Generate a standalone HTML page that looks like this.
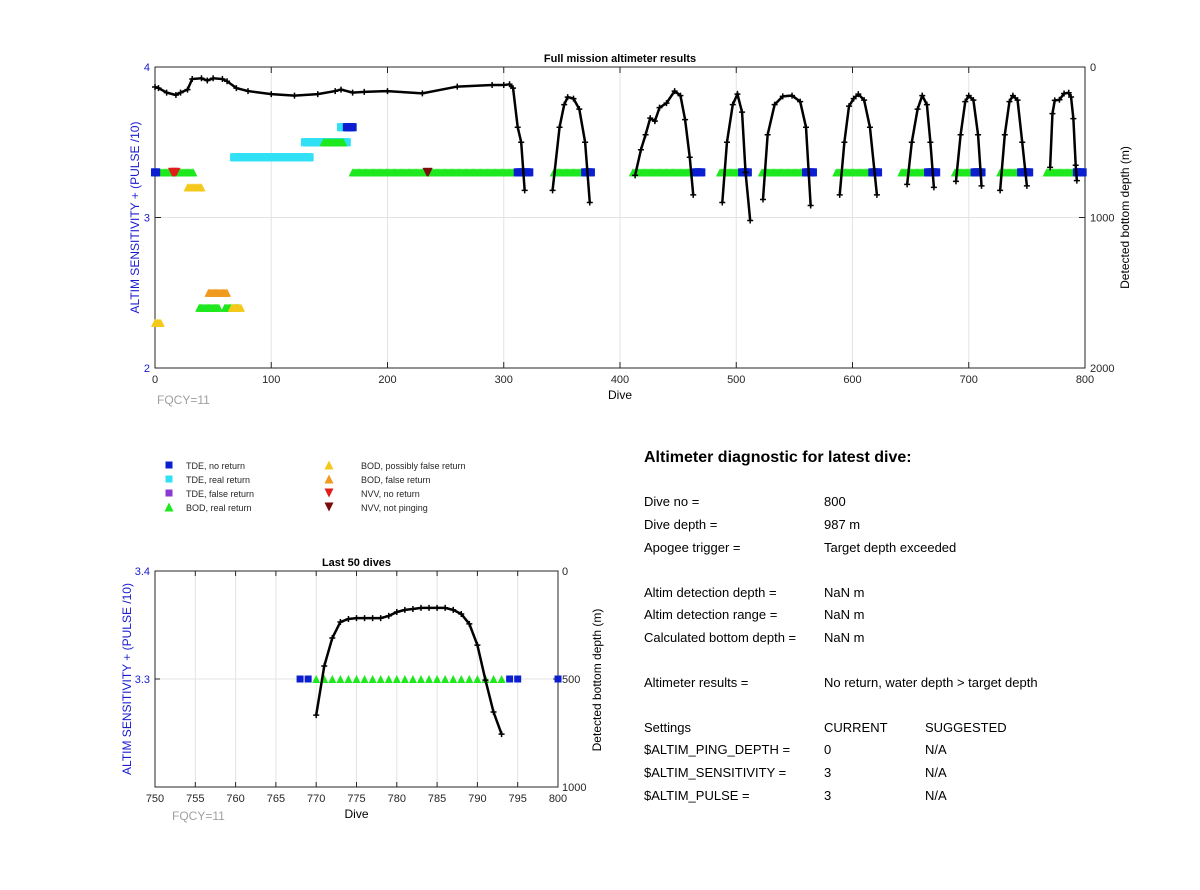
<!DOCTYPE html>
<html><head><meta charset="utf-8"><style>
body{margin:0;background:#fff;font-family:"Liberation Sans",Arial,sans-serif}
svg text{font-family:"Liberation Sans",Arial,sans-serif}
</style></head><body>
<svg id="s" width="1200" height="885" viewBox="0 0 1200 885" xmlns="http://www.w3.org/2000/svg">
<rect width="1200" height="885" fill="#fff"/>
<g id="top"></g>
<g id="bot"></g>
<g id="leg"></g>
<g font-size="13" fill="#000">
<text x="644" y="462" font-size="16" font-weight="bold">Altimeter diagnostic for latest dive:</text>
<text x="644" y="506">Dive no =</text><text x="824" y="506">800</text>
<text x="644" y="529">Dive depth =</text><text x="824" y="529">987 m</text>
<text x="644" y="552">Apogee trigger =</text><text x="824" y="552">Target depth exceeded</text>
<text x="644" y="597">Altim detection depth =</text><text x="824" y="597">NaN m</text>
<text x="644" y="619">Altim detection range =</text><text x="824" y="619">NaN m</text>
<text x="644" y="642">Calculated bottom depth =</text><text x="824" y="642">NaN m</text>
<text x="644" y="687">Altimeter results =</text><text x="824" y="687">No return, water depth &gt; target depth</text>
<text x="644" y="732">Settings</text><text x="824" y="732">CURRENT</text><text x="925" y="732">SUGGESTED</text>
<text x="644" y="754">$ALTIM_PING_DEPTH =</text><text x="824" y="754">0</text><text x="925" y="754">N/A</text>
<text x="644" y="777">$ALTIM_SENSITIVITY =</text><text x="824" y="777">3</text><text x="925" y="777">N/A</text>
<text x="644" y="800">$ALTIM_PULSE =</text><text x="824" y="800">3</text><text x="925" y="800">N/A</text>
</g>
</svg>
<script>
// ---- top chart data ----
const topDepthSegments = [
 [[0,133],[3,140],[10,170],[18,186],[22,170],[28,150],[32,80],[40,75],[45,90],[50,75],[58,80],[62,95],[70,140],[80,160],[100,180],[120,190],[140,180],[155,160],[160,150],[170,170],[180,165],[200,160],[230,175],[260,130],[290,120],[300,120],[305,115],[308,140],[312,400],[315,500],[318,820]],
 [[342,820],[348,400],[352,250],[355,200],[360,210],[365,280],[370,500],[374,900]],
 [[413,720],[418,550],[422,450],[426,340],[430,360],[434,270],[440,240],[447,160],[452,190],[456,350],[460,600],[463,850]],
 [[488,900],[492,500],[497,250],[501,180],[505,300],[508,700],[512,1020]],
 [[523,880],[527,450],[533,250],[540,195],[548,190],[555,230],[560,400],[564,920]],
 [[589,850],[593,500],[597,260],[601,210],[605,180],[610,220],[615,400],[621,850]],
 [[647,780],[651,500],[656,280],[660,190],[664,250],[667,500],[670,800]],
 [[689,760],[693,450],[697,230],[700,190],[704,220],[708,450],[711,790]],
 [[727,820],[731,450],[735,230],[738,190],[742,220],[746,500],[750,790]],
 [[770,667],[772,310],[774,222],[778,218],[782,176],[786,171],[788,199],[790,343],[792,653],[793,755]]
];
// bands: [startDive, endDive, level, type]
const topBands = [
 [0,33,3.3,'bod_real'],[0,1,3.3,'tde_no'],[28,40,3.2,'bod_pf'],[15,18,3.3,'nvv_no'],
 [68,133,3.4,'tde_real'],[129,165,3.5,'tde_real'],[145,162,3.5,'bod_real'],[160,170,3.6,'tde_real'],[165,170,3.6,'tde_no'],
 [170,312,3.3,'bod_real'],[312,322,3.3,'tde_no'],[234,235,3.3,'nvv_np'],
 [343,370,3.3,'bod_real'],[370,375,3.3,'tde_no'],
 [411,465,3.3,'bod_real'],[465,470,3.3,'tde_no'],
 [486,505,3.3,'bod_real'],[505,510,3.3,'tde_no'],
 [522,560,3.3,'bod_real'],[560,566,3.3,'tde_no'],
 [586,617,3.3,'bod_real'],[617,622,3.3,'tde_no'],
 [642,665,3.3,'bod_real'],[665,672,3.3,'tde_no'],
 [688,705,3.3,'bod_real'],[705,711,3.3,'tde_no'],
 [727,745,3.3,'bod_real'],[745,752,3.3,'tde_no'],
 [767,793,3.3,'bod_real'],[793,798,3.3,'tde_no'],
 [46,62,2.5,'bod_false'],[38,55,2.4,'bod_real'],[60,72,2.4,'bod_real'],[66,74,2.4,'bod_pf'],[0,5,2.3,'bod_pf']
];
const topXTicks=[0,100,200,300,400,500,600,700,800];
const topYTicks=[2,3,4];
const topDepthTicks=[0,1000,2000];
// ---- bottom chart data ----
const botDives=[770,771,772,773,774,775,776,777,778,779,780,781,782,783,784,785,786,787,788,789,790,791,792,793];
const botDepths=[667,440,310,236,222,218,218,218,218,208,190,180,176,171,171,171,171,180,199,245,343,505,653,755];
const botTdeNo=[768,769,794,795,800];
const botBodReal=[770,771,772,773,774,775,776,777,778,779,780,781,782,783,784,785,786,787,788,789,790,791,792,793];
const botXTicks=[750,755,760,765,770,775,780,785,790,795,800];

const NS='http://www.w3.org/2000/svg';
function el(p,t,a){const e=document.createElementNS(NS,t);for(const k in a)e.setAttribute(k,a[k]);p.appendChild(e);return e;}
const colors={tde_no:'#0b1fd0',tde_real:'#30e0f5',tde_false:'#8a3ad0',bod_real:'#1ee81e',bod_pf:'#f5c91c',bod_false:'#f09a1e',nvv_no:'#e01c1c',nvv_np:'#7a0c0c'};
function marker(g,type,x,y,s){
  let e;
  if(type.startsWith('tde')) e=el(g,'rect',{x:x-s/2,y:y-s/2,width:s,height:s,fill:colors[type]});
  else if(type.startsWith('bod')) e=el(g,'polygon',{points:`${x-s/2},${y+s/2} ${x+s/2},${y+s/2} ${x},${y-s/2}`,fill:colors[type]});
  else e=el(g,'polygon',{points:`${x-s/2},${y-s/2} ${x+s/2},${y-s/2} ${x},${y+s/2}`,fill:colors[type]});
  return e;
}
function txt(g,x,y,s,a){const t=el(g,'text',Object.assign({x:x,y:y,'font-size':11},a||{}));t.textContent=s;return t;}

// ===== TOP =====
(function(){
 const g=document.getElementById('top');
 const L=155,R=1085,T=67,B=368;
 const xS=d=>L+(d-0)/800*(R-L);
 const yS=v=>B-(v-2)/2*(B-T);
 const dS=m=>T+m/2000*(B-T);
 topXTicks.forEach(d=>{const l=el(g,'line',{x1:xS(d),x2:xS(d),y1:T,y2:B,stroke:'#e3e3e3'});
   });
 el(g,'line',{x1:L,x2:R,y1:yS(3),y2:yS(3),stroke:'#e3e3e3'});
 el(g,'rect',{x:L,y:T,width:R-L,height:B-T,fill:'none',stroke:'#262626','stroke-width':1});
 topXTicks.forEach(d=>{el(g,'line',{x1:xS(d),x2:xS(d),y1:B,y2:B-6,stroke:'#262626'});el(g,'line',{x1:xS(d),x2:xS(d),y1:T,y2:T+6,stroke:'#262626'});
   const t=txt(g,xS(d),B+15,d,{'text-anchor':'middle',fill:'#262626'});});
 topYTicks.forEach(v=>{el(g,'line',{x1:L,x2:L+6,y1:yS(v),y2:yS(v),stroke:'#262626'});
   const t=txt(g,L-5,yS(v)+4,v,{'text-anchor':'end',fill:'#1a1ad0'});});
 topDepthTicks.forEach(m=>{el(g,'line',{x1:R,x2:R-6,y1:dS(m),y2:dS(m),stroke:'#262626'});
   const t=txt(g,R+5,dS(m)+4,m,{fill:'#262626'});});
 const ti=txt(g,(L+R)/2,62,'Full mission altimeter results',{'text-anchor':'middle','font-weight':'bold'});
 
 const xl=txt(g,(L+R)/2,399,'Dive',{'text-anchor':'middle','font-size':12});
 
 const yl=txt(g,0,0,'ALTIM SENSITIVITY + (PULSE /10)',{'text-anchor':'middle','font-size':12,fill:'#1a1ad0',transform:`translate(139,${(T+B)/2}) rotate(-90)`});
 
 const rl=txt(g,0,0,'Detected bottom depth (m)',{'text-anchor':'middle','font-size':12,transform:`translate(1129,${(T+B)/2}) rotate(-90)`});
 
 const fq=txt(g,157,404,'FQCY=11',{'font-size':12,fill:'#a0a0a0'});
 
 const mg=el(g,'g',{});
 topBands.forEach(b=>{for(let d=b[0];d<=b[1];d++){const m=marker(mg,b[3],xS(d),yS(b[2]),b[3].startsWith('nvv')?9:8);
   }});
 topDepthSegments.forEach(seg=>{
   const p=el(g,'polyline',{points:seg.map(q=>xS(q[0])+','+dS(q[1])).join(' '),fill:'none',stroke:'#000','stroke-width':2.5});
   
   seg.forEach(q=>{el(g,'path',{d:`M${xS(q[0])-3},${dS(q[1])}h6M${xS(q[0])},${dS(q[1])-3}v6`,stroke:'#000','stroke-width':1.5});});
 });
})();

// ===== BOTTOM =====
(function(){
 const g=document.getElementById('bot');
 const L=155,R=558,T=571,B=787;
 const xS=d=>L+(d-750)/50*(R-L);
 const yS=v=>B-(v-3.2)/0.2*(B-T);
 const dS=m=>T+m/1000*(B-T);
 botXTicks.forEach(d=>{el(g,'line',{x1:xS(d),x2:xS(d),y1:T,y2:B,stroke:'#e3e3e3'});});
 el(g,'line',{x1:L,x2:R,y1:yS(3.3),y2:yS(3.3),stroke:'#e3e3e3'});
 el(g,'rect',{x:L,y:T,width:R-L,height:B-T,fill:'none',stroke:'#262626'});
 botXTicks.forEach(d=>{el(g,'line',{x1:xS(d),x2:xS(d),y1:B,y2:B-5,stroke:'#262626'});el(g,'line',{x1:xS(d),x2:xS(d),y1:T,y2:T+5,stroke:'#262626'});
   const t=txt(g,xS(d),B+15,d,{'text-anchor':'middle',fill:'#262626'});});
 [3.3,3.4].forEach(v=>{el(g,'line',{x1:L,x2:L+5,y1:yS(v),y2:yS(v),stroke:'#262626'});
   const t=txt(g,L-5,yS(v)+4,v.toFixed(1),{'text-anchor':'end',fill:'#1a1ad0'});});
 [0,500,1000].forEach(m=>{el(g,'line',{x1:R,x2:R-5,y1:dS(m),y2:dS(m),stroke:'#262626'});
   const t=txt(g,R+4,dS(m)+4,m,{fill:'#262626'});});
 const ti=txt(g,(L+R)/2,566,'Last 50 dives',{'text-anchor':'middle','font-weight':'bold'});
 
 const xl=txt(g,(L+R)/2,818,'Dive',{'text-anchor':'middle','font-size':12});
 
 const yl=txt(g,0,0,'ALTIM SENSITIVITY + (PULSE /10)',{'text-anchor':'middle','font-size':12,fill:'#1a1ad0',transform:`translate(131,${(T+B)/2}) rotate(-90)`});
 
 const rl=txt(g,0,0,'Detected bottom depth (m)',{'text-anchor':'middle','font-size':12,transform:`translate(601,${(T+B)/2+1}) rotate(-90)`});
 
 const fq=txt(g,172,820,'FQCY=11',{'font-size':12,fill:'#a0a0a0'});
 
 botTdeNo.forEach(d=>{const m=marker(g,'tde_no',xS(d),yS(3.3),7);});
 botBodReal.forEach(d=>{const m=marker(g,'bod_real',xS(d),yS(3.3),8);});
 const p=el(g,'polyline',{points:botDives.map((d,i)=>xS(d)+','+dS(botDepths[i])).join(' '),fill:'none',stroke:'#000','stroke-width':2.5});
 
 botDives.forEach((d,i)=>{el(g,'path',{d:`M${xS(d)-3},${dS(botDepths[i])}h6M${xS(d)},${dS(botDepths[i])-3}v6`,stroke:'#000','stroke-width':1.5});});
})();

// ===== LEGEND =====
(function(){
 const g=document.getElementById('leg');
 const items=[['tde_no','TDE, no return',169,186,466],['tde_real','TDE, real return',169,186,480],['tde_false','TDE, false return',169,186,494],['bod_real','BOD, real return',169,186,508],
  ['bod_pf','BOD, possibly false return',329,361,466],['bod_false','BOD, false return',329,361,480],['nvv_no','NVV, no return',329,361,494],['nvv_np','NVV, not pinging',329,361,508]];
 items.forEach(it=>{const e=el(g,'g',{});
   marker(e,it[0],it[2],it[4]-1,it[0].startsWith('tde')?7:9);txt(e,it[3],it[4]+3,it[1],{'font-size':9,fill:'#262626'});});
})();
</script>
</body></html>
